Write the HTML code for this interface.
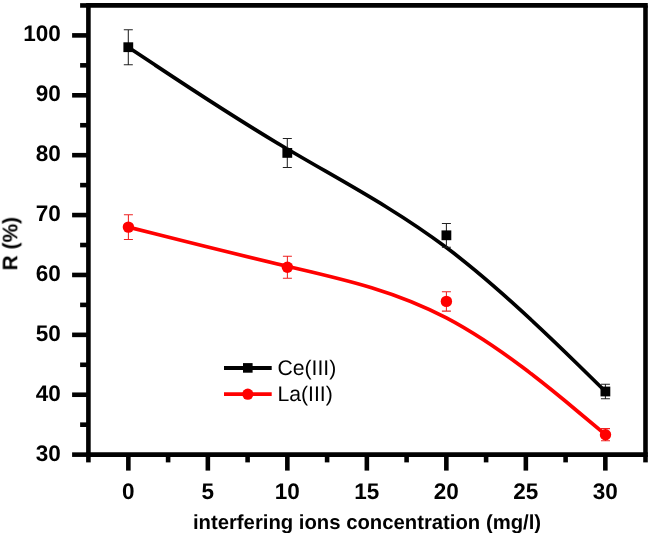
<!DOCTYPE html>
<html><head><meta charset="utf-8"><title>R (%) vs interfering ions concentration</title>
<style>html,body{margin:0;padding:0;background:#fff;}svg{display:block;}text{font-family:"Liberation Sans",Arial,sans-serif;text-rendering:geometricPrecision;}</style></head><body>
<svg width="650" height="533" viewBox="0 0 650 533">
<rect width="650" height="533" fill="#fff"/>
<g opacity="0.999">
<g stroke="#000" stroke-width="4.6" fill="none" stroke-linecap="butt">
<line x1="86.10000000000001" y1="5.4" x2="647.8" y2="5.4"/>
<line x1="86.10000000000001" y1="454.6" x2="647.8" y2="454.6"/>
<line x1="88.4" y1="5.4" x2="88.4" y2="454.6"/>
<line x1="645.5" y1="5.4" x2="645.5" y2="454.6"/>
<line x1="72.10000000000001" y1="454.63" x2="88.4" y2="454.63"/>
<line x1="72.10000000000001" y1="394.74" x2="88.4" y2="394.74"/>
<line x1="72.10000000000001" y1="334.85" x2="88.4" y2="334.85"/>
<line x1="72.10000000000001" y1="274.96" x2="88.4" y2="274.96"/>
<line x1="72.10000000000001" y1="215.07" x2="88.4" y2="215.07"/>
<line x1="72.10000000000001" y1="155.18" x2="88.4" y2="155.18"/>
<line x1="72.10000000000001" y1="95.29" x2="88.4" y2="95.29"/>
<line x1="72.10000000000001" y1="35.40" x2="88.4" y2="35.40"/>
<line x1="80.10000000000001" y1="424.68" x2="88.4" y2="424.68"/>
<line x1="80.10000000000001" y1="364.79" x2="88.4" y2="364.79"/>
<line x1="80.10000000000001" y1="304.90" x2="88.4" y2="304.90"/>
<line x1="80.10000000000001" y1="245.02" x2="88.4" y2="245.02"/>
<line x1="80.10000000000001" y1="185.12" x2="88.4" y2="185.12"/>
<line x1="80.10000000000001" y1="125.23" x2="88.4" y2="125.23"/>
<line x1="80.10000000000001" y1="65.34" x2="88.4" y2="65.34"/>
<line x1="80.10000000000001" y1="5.45" x2="88.4" y2="5.45"/>
<line x1="128.35" y1="454.6" x2="128.35" y2="470.6"/>
<line x1="207.85" y1="454.6" x2="207.85" y2="470.6"/>
<line x1="287.35" y1="454.6" x2="287.35" y2="470.6"/>
<line x1="366.85" y1="454.6" x2="366.85" y2="470.6"/>
<line x1="446.35" y1="454.6" x2="446.35" y2="470.6"/>
<line x1="525.85" y1="454.6" x2="525.85" y2="470.6"/>
<line x1="605.35" y1="454.6" x2="605.35" y2="470.6"/>
<line x1="88.40" y1="454.6" x2="88.40" y2="462.40000000000003"/>
<line x1="168.10" y1="454.6" x2="168.10" y2="462.40000000000003"/>
<line x1="247.60" y1="454.6" x2="247.60" y2="462.40000000000003"/>
<line x1="327.10" y1="454.6" x2="327.10" y2="462.40000000000003"/>
<line x1="406.60" y1="454.6" x2="406.60" y2="462.40000000000003"/>
<line x1="486.10" y1="454.6" x2="486.10" y2="462.40000000000003"/>
<line x1="565.60" y1="454.6" x2="565.60" y2="462.40000000000003"/>
<line x1="645.50" y1="454.6" x2="645.50" y2="462.40000000000003"/>
</g>
<g font-size="22.5" font-weight="bold" fill="#000">
<text x="60.7" y="461.23" text-anchor="end">30</text>
<text x="60.7" y="401.21" text-anchor="end">40</text>
<text x="60.7" y="341.19" text-anchor="end">50</text>
<text x="60.7" y="281.17" text-anchor="end">60</text>
<text x="60.7" y="221.16" text-anchor="end">70</text>
<text x="60.7" y="161.14" text-anchor="end">80</text>
<text x="60.7" y="101.12" text-anchor="end">90</text>
<text x="60.7" y="41.10" text-anchor="end">100</text>
<text x="128.35" y="499.3" text-anchor="middle">0</text>
<text x="207.85" y="499.3" text-anchor="middle">5</text>
<text x="287.35" y="499.3" text-anchor="middle">10</text>
<text x="366.85" y="499.3" text-anchor="middle">15</text>
<text x="446.35" y="499.3" text-anchor="middle">20</text>
<text x="525.85" y="499.3" text-anchor="middle">25</text>
<text x="605.35" y="499.3" text-anchor="middle">30</text>
</g>
<text x="367" y="528.7" font-size="20.3" font-weight="bold" text-anchor="middle">interfering ions concentration (mg/l)</text>
<text transform="translate(17.3,243.7) rotate(-90)" font-size="21" font-weight="bold" text-anchor="middle">R (%)</text>
<path d="M128.30 47.20 C128.30 47.20 128.30 47.20 154.80 64.82 C181.30 82.43 234.30 117.67 287.32 149.02 C340.33 180.37 393.37 207.83 446.38 247.60 C499.40 287.37 552.40 339.43 578.90 365.47 C605.40 391.50 605.40 391.50 605.40 391.50" fill="none" stroke="#000" stroke-width="3.7" stroke-linecap="butt"/>
<g stroke="#222" stroke-width="1.05" fill="none">
<path d="M128.3 29.7V64.7M123.80000000000001 29.7h9M123.80000000000001 64.7h9"/>
<path d="M287.3 138.4V167.4M282.8 138.4h9M282.8 167.4h9"/>
<path d="M446.4 223.4V247.2M441.9 223.4h9M441.9 247.2h9"/>
<path d="M605.4 384.2V398.8M600.9 384.2h9M600.9 398.8h9"/>
</g>
<rect x="123.40" y="42.30" width="9.8" height="9.8" fill="#000"/>
<rect x="282.40" y="148.00" width="9.8" height="9.8" fill="#000"/>
<rect x="441.50" y="230.40" width="9.8" height="9.8" fill="#000"/>
<rect x="600.50" y="386.60" width="9.8" height="9.8" fill="#000"/>
<path d="M128.40 227.10 C128.40 227.10 128.40 227.10 154.90 233.80 C181.40 240.50 234.40 253.90 287.40 266.28 C340.40 278.67 393.40 290.03 446.42 317.93 C499.43 345.83 552.47 390.27 578.98 412.48 C605.50 434.70 605.50 434.70 605.50 434.70" fill="none" stroke="#f00" stroke-width="3.7" stroke-linecap="butt"/>
<g stroke="#e22" stroke-width="1.05" fill="none">
<path d="M128.4 214.8V239.4M123.9 214.8h9M123.9 239.4h9"/>
<path d="M287.4 256.3V278.3M282.9 256.3h9M282.9 278.3h9"/>
<path d="M446.4 291.7V311.1M441.9 291.7h9M441.9 311.1h9"/>
<path d="M605.5 428.6V440.8M601.0 428.6h9M601.0 440.8h9"/>
</g>
<circle cx="128.4" cy="227.1" r="5.7" fill="#f00"/>
<circle cx="287.4" cy="267.3" r="5.7" fill="#f00"/>
<circle cx="446.4" cy="301.4" r="5.7" fill="#f00"/>
<circle cx="605.5" cy="434.7" r="5.7" fill="#f00"/>
<line x1="224" y1="368" x2="271.7" y2="368" stroke="#000" stroke-width="3.8"/>
<rect x="243" y="363.1" width="9.6" height="9.6" fill="#000"/>
<line x1="224" y1="394.2" x2="271.7" y2="394.2" stroke="#f00" stroke-width="3.7"/>
<circle cx="247.8" cy="394.2" r="5.6" fill="#f00"/>
<text x="277.4" y="375.1" font-size="21.2" fill="#000">Ce(III)</text>
<text x="277.4" y="401" font-size="21.2" fill="#000">La(III)</text>
</g>
</svg></body></html>
